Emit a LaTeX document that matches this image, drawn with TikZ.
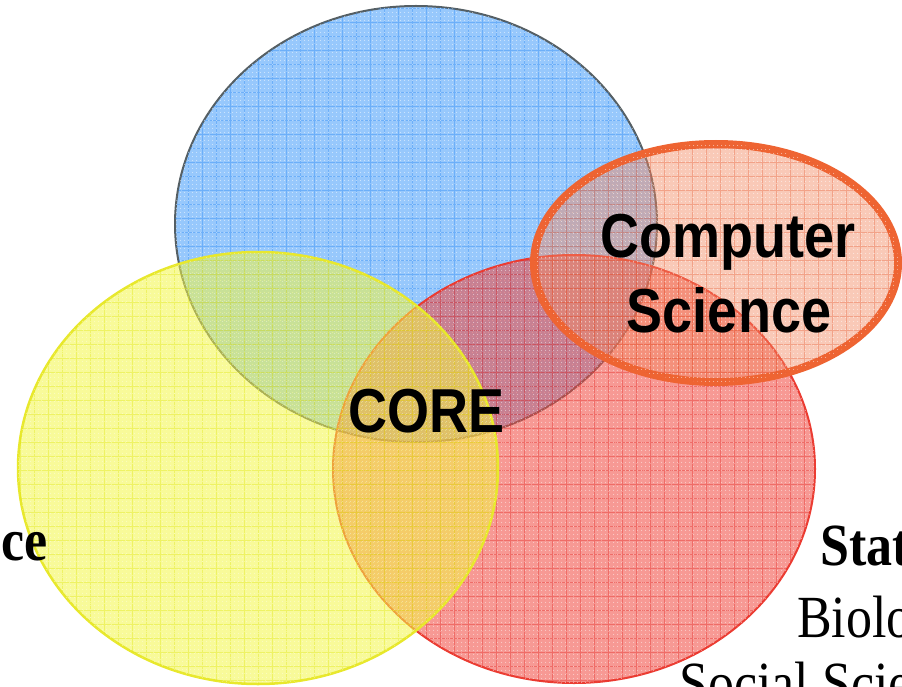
\documentclass[tikz,border=0pt]{standalone}
\usepackage{fontspec}
\setmainfont{Liberation Serif}
\newfontfamily\headfont{Liberation Sans}
\usepackage{graphicx}
\usetikzlibrary{shapes.geometric, patterns.meta}

\definecolor{bluefill}{RGB}{95,170,250}
\definecolor{blueedge}{RGB}{85,95,100}
\definecolor{bluegrid}{RGB}{30,130,245}
\definecolor{yellowfill}{RGB}{242,246,70}
\definecolor{yellowedge}{RGB}{232,232,45}
\definecolor{yellowgrid}{RGB}{225,230,20}
\definecolor{redfill}{RGB}{240,70,60}
\definecolor{rededge}{RGB}{235,60,50}
\definecolor{redgrid}{RGB}{228,40,35}
\definecolor{csfill}{RGB}{242,135,95}
\definecolor{csedge}{RGB}{238,100,50}
\definecolor{csgrid}{RGB}{230,90,50}

\tikzdeclarepattern{
	name=meshgrid, type=uncolored,
	bottom left={(0pt,0pt)}, top right={(14pt,14pt)}, tile size={(14pt,14pt)},
	code={
		\pgfsetlinewidth{0.7pt}
		\pgfpathmoveto{\pgfpoint{0pt}{7pt}}\pgfpathlineto{\pgfpoint{14pt}{7pt}}
		\pgfpathmoveto{\pgfpoint{7pt}{0pt}}\pgfpathlineto{\pgfpoint{7pt}{14pt}}
		\pgfusepath{stroke}
	}}
\tikzdeclarepattern{
	name=meshdots, type=uncolored,
	bottom left={(0pt,0pt)}, top right={(3.5pt,3.5pt)}, tile size={(3.5pt,3.5pt)},
	code={
		\pgfpathcircle{\pgfpoint{1.75pt}{1.75pt}}{0.6pt}
		\pgfusepath{fill}
	}}

\newcommand{\tallbox}[1]{\scalebox{1}[1.15]{#1}}

\tikzset{
	setnode/.style={ellipse, inner sep=0pt, outer sep=0pt},
	blueset/.style={setnode, draw=blueedge, line width=2pt, fill=bluefill, fill opacity=0.65,
		postaction={pattern=meshgrid, pattern color=bluegrid, fill opacity=0.35},
		postaction={pattern=meshdots, pattern color=white, fill opacity=0.55}},
	yellowset/.style={setnode, draw=yellowedge, line width=2.5pt, fill=yellowfill, fill opacity=0.55,
		postaction={pattern=meshgrid, pattern color=yellowgrid, fill opacity=0.4},
		postaction={pattern=meshdots, pattern color=white, fill opacity=0.4}},
	redset/.style={setnode, draw=rededge, line width=2pt, fill=redfill, fill opacity=0.55,
		postaction={pattern=meshgrid, pattern color=redgrid, fill opacity=0.4},
		postaction={pattern=meshdots, pattern color=white, fill opacity=0.5}},
	csset/.style={setnode, draw=csedge, line width=8pt, fill=csfill, fill opacity=0.45,
		postaction={pattern=meshgrid, pattern color=csgrid, fill opacity=0.35},
		postaction={pattern=meshdots, pattern color=white, fill opacity=0.55}},
	headlabel/.style={font=\headfont\bfseries\fontsize{54}{60}\selectfont, inner sep=0pt},
	sidebold/.style={font=\bfseries\fontsize{52}{58}\selectfont, inner sep=0pt},
	sidetext/.style={font=\fontsize{52}{58}\selectfont, inner sep=0pt}
}

\begin{document}
\begin{tikzpicture}[x=1pt, y=-1pt]
	\useasboundingbox (0,0) rectangle (902,687);
	\clip (0,0) rectangle (902,687);
	
	%Sets
	\node[blueset, minimum width=482pt, minimum height=436pt] at (416,224) (math) {};
	\node[redset, minimum width=482pt, minimum height=428pt] at (574,469) (stats) {};
	\node[yellowset, minimum width=480pt, minimum height=432pt] at (258,468) (domain) {};
	\node[csset, minimum width=364pt, minimum height=238pt] at (716,263) (cs) {};
	
	%Labels
	\node[headlabel, anchor=base] at (427,432) (core) {\tallbox{CORE}};
	\node[headlabel, anchor=base] at (728,258) (cs1) {\tallbox{Computer}};
	\node[headlabel, anchor=base] at (729,332) (cs2) {\tallbox{Science}};
	
	\node[sidebold, anchor=base east] at (48,560) (left) {\tallbox{ce}};
	\node[sidebold, anchor=base west] at (820,565) (stat) {\tallbox{Stat}};
	\node[sidetext, anchor=base west] at (797,637) (bio) {\tallbox{Biolo}};
	\node[sidetext, anchor=base west] at (679,703) (social) {\tallbox{Social Scie}};
\end{tikzpicture}
\end{document}
